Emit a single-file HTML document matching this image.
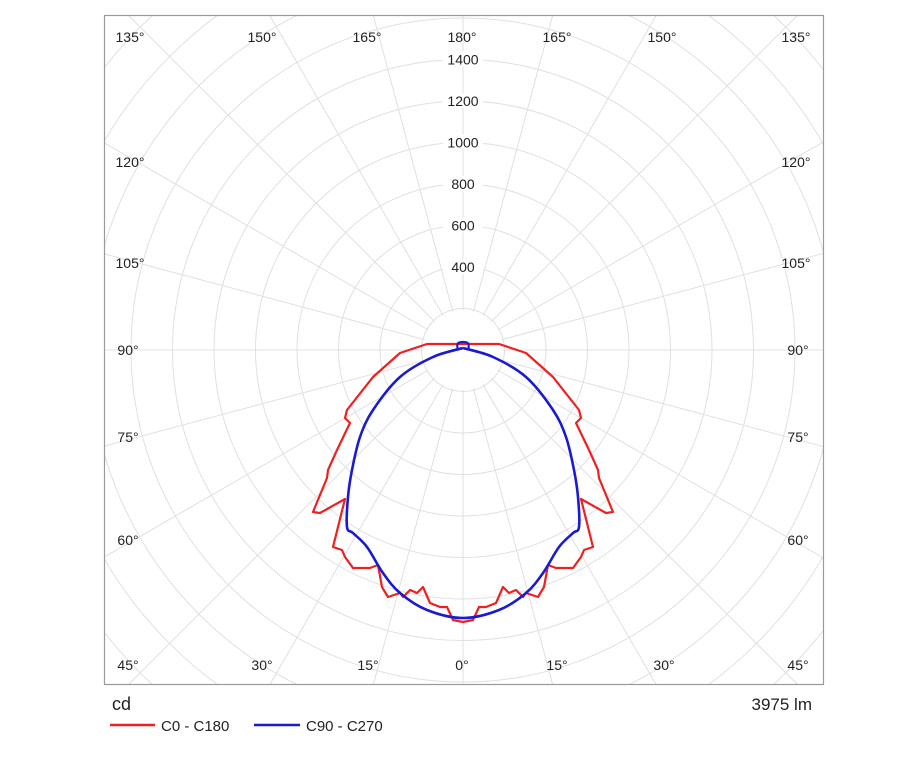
<!DOCTYPE html>
<html><head><meta charset="utf-8"><style>
html,body{margin:0;background:#fff;width:919px;height:759px;overflow:hidden;}
svg{display:block;font-family:"Liberation Sans",sans-serif;}
</style></head><body>
<svg id="s" width="919" height="759" xmlns="http://www.w3.org/2000/svg">
<defs><clipPath id="c"><rect x="105" y="16" width="718" height="668"/></clipPath></defs>
<rect width="919" height="759" fill="#fff"/>
<g id="grid" clip-path="url(#c)" stroke="#e0e0e0" stroke-width="1" fill="none"></g>
<rect x="104.5" y="15.5" width="719" height="669" fill="none" stroke="#9a9a9a" stroke-width="1.2"/>
<g font-size="14" fill="#222" text-anchor="middle">
<text x="130" y="42">135°</text><text x="262" y="42">150°</text><text x="367" y="42">165°</text><text x="462" y="42">180°</text>
<text x="557" y="42">165°</text><text x="662" y="42">150°</text><text x="796" y="42">135°</text>
<text x="130" y="167">120°</text><text x="130" y="268">105°</text><text x="128" y="355">90°</text><text x="128" y="442">75°</text><text x="128" y="545">60°</text>
<text x="796" y="167">120°</text><text x="796" y="268">105°</text><text x="798" y="355">90°</text><text x="798" y="442">75°</text><text x="798" y="545">60°</text>
<text x="128" y="670">45°</text><text x="262" y="670">30°</text><text x="368" y="670">15°</text><text x="462" y="670">0°</text>
<text x="557" y="670">15°</text><text x="664" y="670">30°</text><text x="798" y="670">45°</text>
</g>
<g font-size="14" fill="#222" text-anchor="middle" id="rl"></g>
<path id="red" fill="none" stroke="#ee2020" stroke-width="2.2" stroke-linejoin="round"/>
<path id="blue" fill="none" stroke="#1a1ad0" stroke-width="2.6" stroke-linejoin="round"/>
<path d="M458,350 C456,343 458,342 463,342 C468,342 470,343 468,350" fill="none" stroke="#1a1ad0" stroke-width="2.2"/>
<text x="112" y="710" font-size="18" fill="#222">cd</text>
<text x="812" y="710" font-size="17" fill="#222" text-anchor="end">3975 lm</text>
<line x1="110" y1="725" x2="155" y2="725" stroke="#ee2020" stroke-width="2.5"/>
<text x="161" y="731" font-size="15" fill="#222">C0 - C180</text>
<line x1="254" y1="725" x2="300" y2="725" stroke="#1a1ad0" stroke-width="2.5"/>
<text x="306" y="731" font-size="15" fill="#222">C90 - C270</text>
</svg>
<script>
var cx=463,cy=350,k=0.2075,g=document.getElementById('grid'),h='';
for(var v=200;v<=2600;v+=200){h+='<circle cx="'+cx+'" cy="'+cy+'" r="'+(v*k)+'"/>';}
for(var a=0;a<360;a+=15){var t=a*Math.PI/180;h+='<line x1="'+(cx+40*Math.sin(t))+'" y1="'+(cy+40*Math.cos(t))+'" x2="'+(cx+700*Math.sin(t))+'" y2="'+(cy+700*Math.cos(t))+'"/>';}
g.innerHTML=h;
var rl='';[400,600,800,1000,1200,1400].forEach(function(v){var y=cy-v*k;rl+='<rect x="443" y="'+(y-8)+'" width="40" height="15" fill="#fff"/><text x="463" y="'+(y+5)+'">'+v+'</text>';});
document.getElementById('rl').innerHTML=rl;
function pts(p){var R=p.slice().reverse().map(function(q){return[2*cx-q[0],q[1]];});return p.concat(R.slice(1));}
function poly(a){return 'M'+a.map(function(p){return p[0]+','+p[1];}).join(' L');}
function smooth(a){var d='M'+a[0][0]+','+a[0][1];for(var i=0;i<a.length-1;i++){var p0=a[Math.max(i-1,0)],p1=a[i],p2=a[i+1],p3=a[Math.min(i+2,a.length-1)];
d+=' C'+(p1[0]+(p2[0]-p0[0])/6)+','+(p1[1]+(p2[1]-p0[1])/6)+' '+(p2[0]-(p3[0]-p1[0])/6)+','+(p2[1]-(p3[1]-p1[1])/6)+' '+p2[0]+','+p2[1];}return d;}
var blue=[[463,348],[433,357],[400,377],[373,410],[360,437],[352,470],[348,497],[347,527],[353,533],[367,547],[383,573],[400,593],[427,610],[463,618]];
var red=[[463,344],[427,344],[400,353],[373,377],[347,410],[345,418],[350,423],[337,450],[328,470],[327,478],[313,512],[320,513],[345,499],[333,547],[342,550],[345,557],[353,568],[370,568],[378,565],[382,587],[388,597],[400,593],[403,597],[410,590],[417,593],[423,587],[430,603],[440,607],[447,607],[453,620],[463,622]];
document.getElementById('blue').setAttribute('d',smooth(pts(blue)));
document.getElementById('red').setAttribute('d',poly(pts(red)));
</script>
</body></html>
